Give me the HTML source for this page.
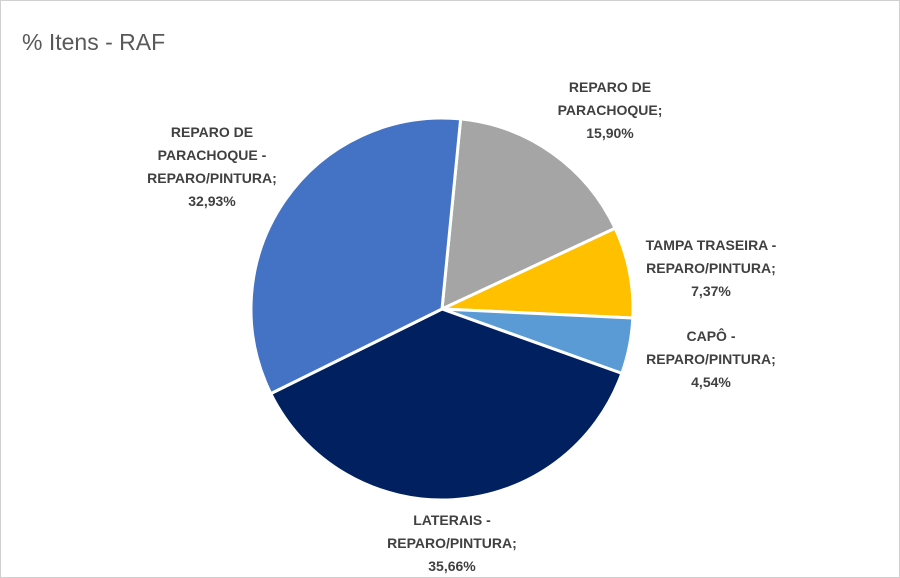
<!DOCTYPE html>
<html><head><meta charset="utf-8"><style>
html,body{margin:0;padding:0;background:#fff}
svg{display:block}
text{font-family:"Liberation Sans",sans-serif}
.l{font-size:14px;font-weight:bold;fill:#404040;text-anchor:middle}
</style></head><body>
<svg width="900" height="578" viewBox="0 0 900 578" xmlns="http://www.w3.org/2000/svg">
<rect x="0.5" y="0.5" width="899" height="577" fill="#fff" stroke="#d0d0d0"/>
<text x="22" y="50" font-size="23" fill="#595959">% Itens - RAF</text>
<g stroke="#fff" stroke-width="3" stroke-linejoin="round" id="pie"></g>
<text class="l" x="610" y="92">REPARO DE</text>
<text class="l" x="610" y="115">PARACHOQUE;</text>
<text class="l" x="610" y="138">15,90%</text>
<text class="l" x="212" y="137">REPARO DE</text>
<text class="l" x="212" y="160">PARACHOQUE -</text>
<text class="l" x="212" y="183">REPARO/PINTURA;</text>
<text class="l" x="212" y="206">32,93%</text>
<text class="l" x="711" y="250">TAMPA TRASEIRA -</text>
<text class="l" x="711" y="273">REPARO/PINTURA;</text>
<text class="l" x="711" y="296">7,37%</text>
<text class="l" x="711" y="341">CAPÔ -</text>
<text class="l" x="711" y="364">REPARO/PINTURA;</text>
<text class="l" x="711" y="387">4,54%</text>
<text class="l" x="452" y="525">LATERAIS -</text>
<text class="l" x="452" y="548">REPARO/PINTURA;</text>
<text class="l" x="452" y="571">35,66%</text>
</svg>
<script>
var cx=442,cy=309,r=191;
var a=[5.6,65,92.7,109.7,243.7,365.6];
var c=["#A5A5A5","#FFC000","#5B9BD5","#002060","#4472C4"];
var g=document.getElementById('pie'),s='';
function p(d){var t=d*Math.PI/180;return (cx+r*Math.sin(t)).toFixed(2)+','+(cy-r*Math.cos(t)).toFixed(2);}
for(var i=0;i<5;i++){var L=(a[i+1]-a[i])>180?1:0;
s+='<path fill="'+c[i]+'" d="M'+cx+','+cy+' L'+p(a[i])+' A'+r+','+r+' 0 '+L+' 1 '+p(a[i+1])+' Z"/>';}
g.innerHTML=s;
</script>
</body></html>
